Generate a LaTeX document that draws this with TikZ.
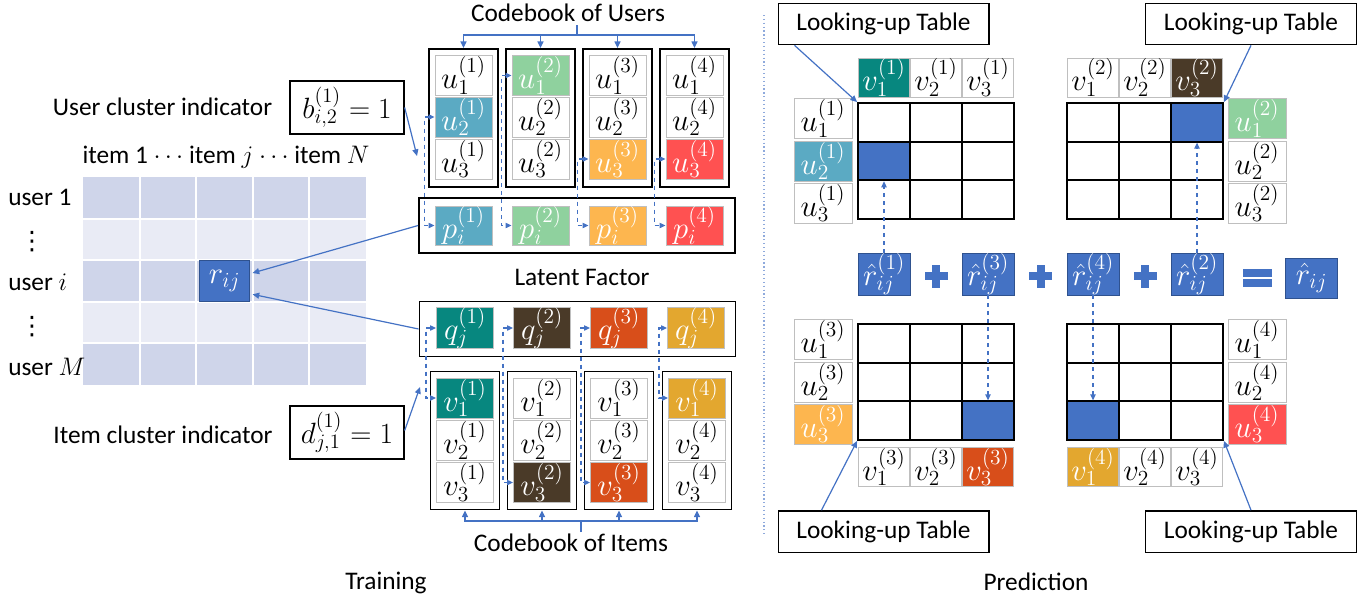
\RequirePackage{fix-cm}
\documentclass[tikz,border=0pt]{standalone}
\usepackage{fontspec}
\setmainfont{Carlito}
\newfontfamily\dejavu{DejaVu Sans}
\usetikzlibrary{arrows.meta}
\definecolor{accblue}{HTML}{4472C4}
\definecolor{accblued}{HTML}{2F528F}
\definecolor{rowA}{HTML}{CFD5EA}
\definecolor{rowB}{HTML}{E9EBF5}
\definecolor{cAqua}{HTML}{5BAAC3}
\definecolor{cGreen}{HTML}{8FD19E}
\definecolor{cOrange}{HTML}{FDB64F}
\definecolor{cRed}{HTML}{FF5151}
\definecolor{cTeal}{HTML}{07877F}
\definecolor{cBrown}{HTML}{4A3A28}
\definecolor{cRust}{HTML}{D84E1A}
\definecolor{cGold}{HTML}{E3A72F}
\definecolor{cellgray}{HTML}{BFBFBF}
\definecolor{divblue}{HTML}{8FAADC}
\begin{document}
\begin{tikzpicture}[x=0.75pt,y=-0.75pt,
  every node/.style={font=\fontsize{19}{23}\selectfont, inner sep=0pt},
  mth/.style={font=\fontsize{23}{27}\selectfont},
  cbcell/.style={mth, draw=cellgray, line width=0.75pt, fill=white, minimum width=42.75pt, minimum height=30pt},
  cbbox/.style={draw=black, line width=1.4pt, minimum width=51.75pt, minimum height=103.5pt},
  rowbox/.style={draw=black, line width=1.4pt, minimum width=237pt, minimum height=41.25pt},
  tint/.style={fill=#1, text=white},
  lab/.style={mth, draw=cellgray, line width=0.75pt, fill=white, minimum width=43.5pt, minimum height=30pt},
  vlab/.style={mth, draw=cellgray, line width=0.75pt, fill=white, minimum width=38.5pt, minimum height=29.25pt},
  mcell/.style={draw=black, line width=1.4pt, minimum width=39pt, minimum height=29pt},
  rh/.style={mth, fill=accblue, draw=accblued, line width=0.6pt, text=white, minimum width=39pt, minimum height=30pt},
  tagbox/.style={font=\fontsize{22}{26}\selectfont, draw=black, line width=1pt, fill=white, minimum width=85.5pt, minimum height=39.75pt},
  lubox/.style={draw=black, line width=1pt, fill=white, minimum width=158pt, minimum height=31pt},
  conn/.style={draw=accblue, line width=0.9pt, -{Triangle[length=5pt,width=4.5pt]}},
  bline/.style={draw=accblue, line width=0.9pt},
  dconn/.style={draw=accblue, line width=0.9pt, dashed, {Triangle[length=4.5pt,width=4pt]}-{Triangle[length=4.5pt,width=4pt]}},
  dconn1/.style={draw=accblue, line width=0.9pt, dashed, -{Triangle[length=4.5pt,width=4pt]}}
]
\useasboundingbox (0,0) rectangle (1359,600);

% ---------- rating matrix ----------
\fill[rowA] (83,177) rectangle (366,218.6);
\fill[rowB] (83,218.6) rectangle (366,260.2);
\fill[rowA] (83,260.2) rectangle (366,301.8);
\fill[rowB] (83,301.8) rectangle (366,343.4);
\fill[rowA] (83,343.4) rectangle (366,385);
\foreach \x in {139.6,196.2,252.8,309.4} \draw[white, line width=1.5pt] (\x,177) -- (\x,385);
\foreach \y in {218.6,260.2,301.8,343.4} \draw[white, line width=1.5pt] (83,\y) -- (366,\y);
\node[rh, minimum width=37.5pt, minimum height=30.5pt] (rij) at (224.5,281) {$r_{ij}$};

\node[anchor=west] (user1) at (8,197) {user 1};
\node (dots1) at (32,242) {\dejavu ⋮};
\node[anchor=west] (useri) at (8,282) {user $i$};
\node (dots2) at (32,327) {\dejavu ⋮};
\node[anchor=west] (userM) at (8,367) {user $M$};
\node (items) at (226,157) {item 1 $\cdots$ item $j$ $\cdots$ item $N$};

\node (uci) at (162.5,107) {User cluster indicator};
\node[tagbox] (bbox) at (347,107.5) {$b_{i,2}^{(1)}=1$};
\node (ici) at (163,435) {Item cluster indicator};
\node[tagbox] (dbox) at (347,432.5) {$d_{j,1}^{(1)}=1$};

% ---------- user codebook ----------
\node (cbu) at (568,13) {Codebook of Users};
\node[cbbox] (ub1) at (463.5,118) {};
\node[cbbox] (ub2) at (540.5,118) {};
\node[cbbox] (ub3) at (617.5,118) {};
\node[cbbox] (ub4) at (694.5,118) {};
\node[cbcell] (u1-1) at (463.5,75.5) {$u_1^{(1)}$};
\node[cbcell, tint=cAqua] (u2-1) at (463.5,117) {$u_2^{(1)}$};
\node[cbcell] (u3-1) at (463.5,159) {$u_3^{(1)}$};
\node[cbcell, tint=cGreen] (u1-2) at (540.5,75.5) {$u_1^{(2)}$};
\node[cbcell] (u2-2) at (540.5,117) {$u_2^{(2)}$};
\node[cbcell] (u3-2) at (540.5,159) {$u_3^{(2)}$};
\node[cbcell] (u1-3) at (617.5,75.5) {$u_1^{(3)}$};
\node[cbcell] (u2-3) at (617.5,117) {$u_2^{(3)}$};
\node[cbcell, tint=cOrange] (u3-3) at (617.5,159) {$u_3^{(3)}$};
\node[cbcell] (u1-4) at (694.5,75.5) {$u_1^{(4)}$};
\node[cbcell] (u2-4) at (694.5,117) {$u_2^{(4)}$};
\node[cbcell, tint=cRed] (u3-4) at (694.5,159) {$u_3^{(4)}$};

\coordinate (ubs) at (577,25);
\coordinate (ubj) at (577,35);
\draw[bline] (ubs) -- (ubj);
\foreach \k in {1,2,3,4} \draw[conn] (ubj) -| (ub\k.north);

% latent factor p
\node[rowbox] (pbox) at (577,225.5) {};
\node[cbcell, tint=cAqua, minimum height=29.25pt] (p1) at (463.5,225.5) {$p_i^{(1)}$};
\node[cbcell, tint=cGreen, minimum height=29.25pt] (p2) at (540.5,225.5) {$p_i^{(2)}$};
\node[cbcell, tint=cOrange, minimum height=29.25pt] (p3) at (617.5,225.5) {$p_i^{(3)}$};
\node[cbcell, tint=cRed, minimum height=29.25pt] (p4) at (694.5,225.5) {$p_i^{(4)}$};
\node (lf) at (582,277) {Latent Factor};

\draw[dconn] (u2-1.west) -- ++(-10,0) |- (p1.west);
\draw[dconn] (u1-2.west) -- ++(-10,0) |- (p2.west);
\draw[dconn] (u3-3.west) -- ++(-11,0) |- (p3.west);
\draw[dconn] (u3-4.west) -- ++(-11,0) |- (p4.west);

% latent factor q
\node[rowbox] (qbox) at (577.5,329) {};
\node[cbcell, tint=cTeal] (q1) at (465,328) {$q_j^{(1)}$};
\node[cbcell, tint=cBrown] (q2) at (542,328) {$q_j^{(2)}$};
\node[cbcell, tint=cRust] (q3) at (619,328) {$q_j^{(3)}$};
\node[cbcell, tint=cGold] (q4) at (696,328) {$q_j^{(4)}$};

% item codebook
\node[cbbox] (ib1) at (465,440.5) {};
\node[cbbox] (ib2) at (542,440.5) {};
\node[cbbox] (ib3) at (619,440.5) {};
\node[cbbox] (ib4) at (697,440.5) {};
\node[cbcell, tint=cTeal] (v1-1) at (465,398) {$v_1^{(1)}$};
\node[cbcell] (v2-1) at (465,440.5) {$v_2^{(1)}$};
\node[cbcell] (v3-1) at (465,482.5) {$v_3^{(1)}$};
\node[cbcell] (v1-2) at (542,398) {$v_1^{(2)}$};
\node[cbcell] (v2-2) at (542,440.5) {$v_2^{(2)}$};
\node[cbcell, tint=cBrown] (v3-2) at (542,482.5) {$v_3^{(2)}$};
\node[cbcell] (v1-3) at (619,398) {$v_1^{(3)}$};
\node[cbcell] (v2-3) at (619,440.5) {$v_2^{(3)}$};
\node[cbcell, tint=cRust] (v3-3) at (619,482.5) {$v_3^{(3)}$};
\node[cbcell, tint=cGold] (v1-4) at (697,398) {$v_1^{(4)}$};
\node[cbcell] (v2-4) at (697,440.5) {$v_2^{(4)}$};
\node[cbcell] (v3-4) at (697,482.5) {$v_3^{(4)}$};

\draw[dconn] (q1.west) -- ++(-10,0) |- (v1-1.west);
\draw[dconn] (q2.west) -- ++(-10,0) |- (v3-2.west);
\draw[dconn] (q3.west) -- ++(-9,0) |- (v3-3.west);
\draw[dconn] (q4.west) -- ++(-8,0) |- (v1-4.west);

\node (cbi) at (571,543) {Codebook of Items};
\coordinate (ibs) at (581,532);
\coordinate (ibj) at (581,521);
\draw[bline] (ibs) -- (ibj);
\foreach \k in {1,2,3,4} \draw[conn] (ibj) -| (ib\k.south);

% connectors to r_ij and indicators
\coordinate (barrow) at (417,156);
\draw[conn] (bbox.east) -- (barrow);
\coordinate (darrow) at (420,387);
\draw[conn] ([yshift=1.5pt]dbox.east) -- (darrow);
\draw[conn] (pbox.west) -- ([xshift=2pt,yshift=6pt]rij.east);
\draw[conn] (qbox.west) -- ([xshift=2pt,yshift=-10pt]rij.east);

\node (train) at (386,583) {Training};

% divider
\draw[divblue, dotted, line width=0.9pt] (764,15) -- (764,535);

% ---------- prediction ----------
\foreach \r in {0,1,2}{\foreach \c in {0,1,2}{
  \node[mcell] (tl-\r-\c) at ({884+52*\c},{122.33+38.67*\r}) {};
  \node[mcell] (tr-\r-\c) at ({1093+52*\c},{122.33+38.67*\r}) {};
  \node[mcell] (bl-\r-\c) at ({884+52*\c},{343.33+38.67*\r}) {};
  \node[mcell] (br-\r-\c) at ({1093+52*\c},{343.33+38.67*\r}) {};
}}
\node[mcell, fill=accblue] (tlb) at (tl-1-0.center) {};
\node[mcell, fill=accblue] (trb) at (tr-0-2.center) {};
\node[mcell, fill=accblue] (blb) at (bl-2-2.center) {};
\node[mcell, fill=accblue] (brb) at (br-2-0.center) {};

% TL labels
\node[vlab, tint=cTeal] (tlv1) at (884,77.5) {$v_1^{(1)}$};
\node[vlab] (tlv2) at (936,77.5) {$v_2^{(1)}$};
\node[vlab] (tlv3) at (988,77.5) {$v_3^{(1)}$};
\node[lab] (tlu1) at (823,118.5) {$u_1^{(1)}$};
\node[lab, tint=cAqua] (tlu2) at (823,161) {$u_2^{(1)}$};
\node[lab] (tlu3) at (823,203) {$u_3^{(1)}$};
% TR labels
\node[vlab] (trv1) at (1093,77.5) {$v_1^{(2)}$};
\node[vlab] (trv2) at (1145,77.5) {$v_2^{(2)}$};
\node[vlab, tint=cBrown] (trv3) at (1197,77.5) {$v_3^{(2)}$};
\node[lab, tint=cGreen] (tru1) at (1257,118.5) {$u_1^{(2)}$};
\node[lab] (tru2) at (1257,161) {$u_2^{(2)}$};
\node[lab] (tru3) at (1257,203) {$u_3^{(2)}$};
% BL labels
\node[vlab] (blv1) at (884,467) {$v_1^{(3)}$};
\node[vlab] (blv2) at (936,467) {$v_2^{(3)}$};
\node[vlab, tint=cRust] (blv3) at (988,467) {$v_3^{(3)}$};
\node[lab] (blu1) at (823,339.5) {$u_1^{(3)}$};
\node[lab] (blu2) at (823,382) {$u_2^{(3)}$};
\node[lab, tint=cOrange] (blu3) at (823,424) {$u_3^{(3)}$};
% BR labels
\node[vlab, tint=cGold] (brv1) at (1093,467) {$v_1^{(4)}$};
\node[vlab] (brv2) at (1145,467) {$v_2^{(4)}$};
\node[vlab] (brv3) at (1197,467) {$v_3^{(4)}$};
\node[lab] (bru1) at (1257,339.5) {$u_1^{(4)}$};
\node[lab] (bru2) at (1257,382) {$u_2^{(4)}$};
\node[lab, tint=cRed] (bru3) at (1257,424) {$u_3^{(4)}$};

% equation row
\node[rh] (rh1) at (884,274) {$\hat{r}_{ij}^{(1)}$};
\node[rh] (rh3) at (988,274) {$\hat{r}_{ij}^{(3)}$};
\node[rh] (rh4) at (1093,274) {$\hat{r}_{ij}^{(4)}$};
\node[rh] (rh2) at (1197,274) {$\hat{r}_{ij}^{(2)}$};
\node[rh] (rhat) at (1311.5,278) {$\hat{r}_{ij}$};
\foreach \px in {936,1040.5,1145}{
  \fill[accblue] ({\px-11.5},272) rectangle ({\px+11.5},280);
  \fill[accblue] ({\px-4},264.5) rectangle ({\px+4},287.5);
}
\fill[accblue] (1243,268.5) rectangle (1272,276.5);
\fill[accblue] (1243,279) rectangle (1272,287);

\draw[dconn1] (rh1.north) -- (tlb.south);
\draw[dconn1] (rh2.north) -- (trb.south);
\draw[dconn1] (rh3.south) -- (blb.north);
\draw[dconn1] (rh4.south) -- (brb.north);

% looking-up tables
\node[lubox] (lutl) at (883.5,24) {Looking-up Table};
\node[lubox] (lutr) at (1251,24) {Looking-up Table};
\node[lubox] (lubl) at (883.5,531.5) {Looking-up Table};
\node[lubox] (lubr) at (1251,531.5) {Looking-up Table};
\draw[conn] ([xshift=12.75pt]lutl.south west) -- (tl-0-0.north west);
\draw[conn] (lutr.south) -- (tr-0-2.north east);
\draw[conn] ([xshift=33pt]lubl.north west) -- (bl-2-0.south west);
\draw[conn] (lubr.north) -- (br-2-2.south east);

\node (pred) at (1036,582) {Prediction};
\end{tikzpicture}
\end{document}
